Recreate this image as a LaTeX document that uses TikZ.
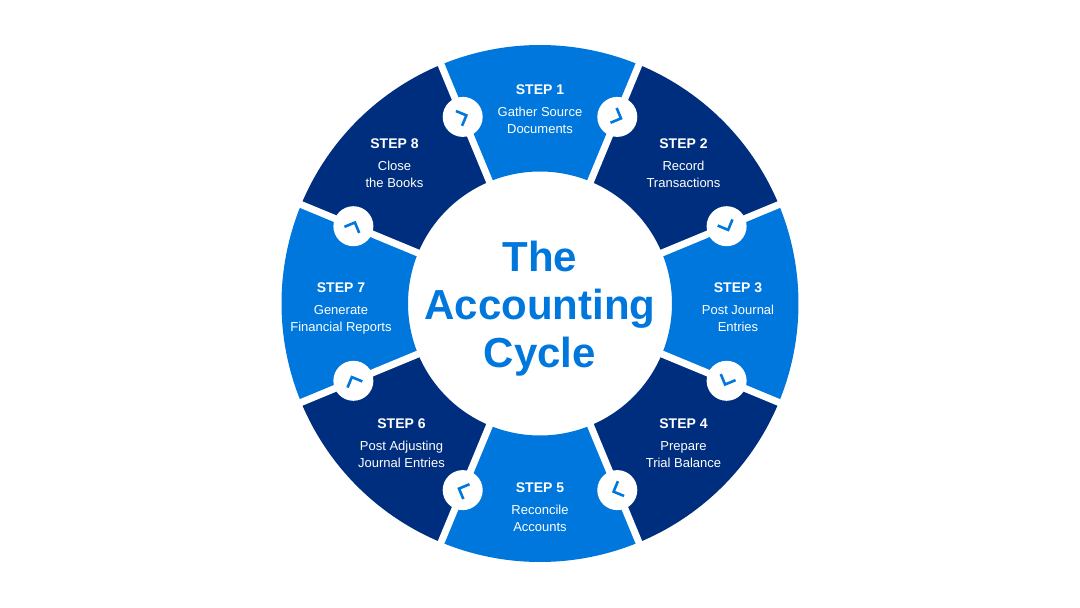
\documentclass[tikz,border=0pt]{standalone}
\usepackage{fontspec}
\setmainfont{Liberation Sans}
\definecolor{stepblue}{RGB}{0,119,221}
\definecolor{stepnavy}{RGB}{0,46,126}

\tikzset{
  steptext/.style={text=white, align=center, font=\fontsize{13}{17}\selectfont},
  hubtitle/.style={text=stepblue, align=center, font=\fontsize{42}{48}\selectfont\bfseries},
  gapline/.style={white, line width=7pt},
  turndot/.style={circle, fill=white, minimum size=40pt, inner sep=0pt},
  chevron/.style={stepblue, line width=2.6pt},
}
\newcommand{\stephead}[1]{{\fontsize{14}{17}\selectfont\bfseries STEP #1}}

\begin{document}
\begin{tikzpicture}[x=1pt, y=1pt]
    \useasboundingbox (-540,-304.5) rectangle (540,303.5);
    \fill[white] (-540,-304.5) rectangle (540,303.5);

    % Ring sectors and step texts
    \foreach \n/\ang/\col/\px/\py/\one/\two in {
        1/90/stepblue/0/194/Gather Source/Documents,
        2/45/stepnavy/143.5/140.5/Record/Transactions,
        3/0/stepblue/198/-4/Post Journal/Entries,
        4/-45/stepnavy/143.5/-139.5/Prepare/Trial Balance,
        5/-90/stepblue/0/-204/Reconcile/Accounts,
        6/-135/stepnavy/-138.5/-139.5/Post Adjusting/Journal Entries,
        7/180/stepblue/-199/-5/Generate/Financial Reports,
        8/135/stepnavy/-145.5/140.5/Close/the Books
    } {
        \fill[\col] (\ang-22.5:132) arc[start angle=\ang-22.5, end angle=\ang+22.5, radius=132pt]
            -- (\ang+22.5:258.5) arc[start angle=\ang+22.5, end angle=\ang-22.5, radius=258.5pt] -- cycle;
        \node[steptext] (step\n) at (\px,\py) {\stephead{\n}\\[5pt]\one\\\two};
    }

    % Gaps between the sectors
    \foreach \b in {67.5,22.5,...,-247.5}
        \draw[gapline] (\b:125) -- (\b:265);

    % Turn markers
    \foreach \b [count=\k] in {67.5,22.5,...,-247.5} {
        \node[turndot] (turn\k) at (\b:202) {};
        \begin{scope}[shift={(turn\k.center)}, rotate=\b-90]
            \draw[chevron] (-4,8) -- (4,0) -- (-4,-8);
        \end{scope}
    }

    % Hub
    \node[hubtitle] (title) at (0,-5) {The\\Accounting\\Cycle};
\end{tikzpicture}
\end{document}
